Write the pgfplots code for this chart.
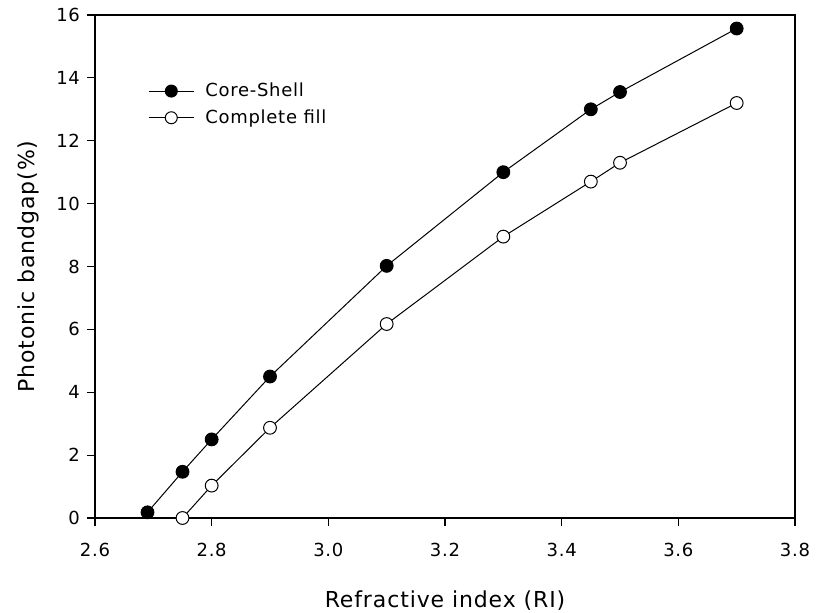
\documentclass[border=0pt]{standalone}
\usepackage{fontspec}
\setmainfont{DejaVu Sans}[LetterSpace=4]
\usepackage{pgfplots}
\pgfplotsset{compat=1.18}

\begin{document}
\begin{tikzpicture}
\begin{axis}[
    scale only axis,
    width=350pt, height=251.5pt,
    xmin=2.6, xmax=3.8, ymin=0, ymax=16,
    xtick={2.6,2.8,...,3.8}, ytick={0,2,...,16},
    /pgf/number format/assume math mode=true,
    tick label style={font=\fontsize{9}{11}\selectfont},
    xticklabel style={yshift=-5pt, /pgf/number format/.cd, fixed, fixed zerofill, precision=1},
    label style={font=\fontsize{11}{13}\selectfont},
    xlabel={Refractive index (RI)},
    ylabel={Photonic bandgap(\%)},
    xlabel style={yshift=-10pt},
    ylabel style={yshift=2pt},
    tick align=outside, tick pos=left,
    major tick length=4pt,
    axis line style={line width=0.6pt},
    every tick/.style={black, line width=0.6pt},
    legend style={draw=none, fill=none, font=\fontsize{9}{11}\selectfont,
        at={(0.067,0.882)}, anchor=north west, row sep=1pt},
    legend cell align=left,
    every axis plot/.append style={line width=0.5pt},
    legend image code/.code={
        \draw[#1] (0pt,0pt) -- (22.5pt,0pt);
        \draw[#1, only marks, mark size=3pt] plot coordinates {(11.25pt,0pt)};
        \path (26pt,0pt);
    },
]
\addplot[black, mark=*, mark size=3.2pt, mark options={fill=black}] coordinates {
    (2.69,0.18)(2.75,1.47)(2.8,2.5)(2.9,4.5)(3.1,8.02)(3.3,11.0)(3.45,13.0)(3.5,13.55)(3.7,15.57)};
\addlegendentry{Core-Shell}
\addplot[black, mark=*, mark size=3.2pt, mark options={fill=white}] coordinates {
    (2.75,0)(2.8,1.03)(2.9,2.87)(3.1,6.17)(3.3,8.95)(3.45,10.7)(3.5,11.3)(3.7,13.2)};
\addlegendentry{Complete fill}
\end{axis}
\pgfresetboundingbox
\path ([shift={(-47.5pt,-47.5pt)}]current axis.south west) rectangle ([shift={(10.5pt,7.5pt)}]current axis.north east);
\end{tikzpicture}
\end{document}
